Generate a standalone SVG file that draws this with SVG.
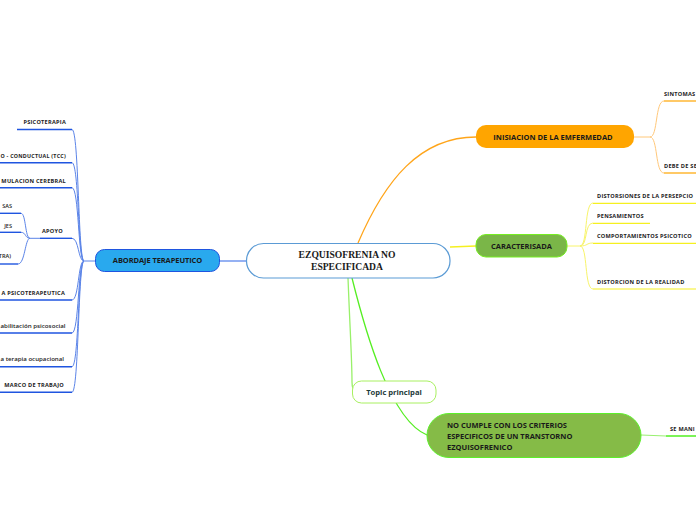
<svg xmlns="http://www.w3.org/2000/svg" width="696" height="520" viewBox="0 0 696 520">
<style>
.lbl{font-family:"Open Sans","DejaVu Sans",sans-serif;font-size:5.6px;font-weight:700;fill:#222;letter-spacing:0.25px}
.lbl2{font-family:"Open Sans","DejaVu Sans",sans-serif;font-size:5.6px;font-weight:600;fill:#222}
.lbl3{font-family:"Open Sans","DejaVu Sans",sans-serif;font-size:5.8px;font-weight:600;fill:#222}
.ul-b{stroke:#1f55e0;stroke-width:1.4;fill:none}
.ul-o{stroke:#ffa500;stroke-width:1.2;fill:none}
.ul-y{stroke:#f5f020;stroke-width:1.2;fill:none}
.ul-g{stroke:#44ee11;stroke-width:1.4;fill:none}
.c-b{stroke:#5b84e8;stroke-width:1;fill:none}
.c-o{stroke:#ffc87a;stroke-width:1;fill:none}
.c-y{stroke:#f8f46a;stroke-width:1;fill:none}
.main{font-family:"Open Sans","DejaVu Sans",sans-serif;font-size:7.5px;font-weight:700;fill:#1a1a1a}
</style>
<rect width="696" height="520" fill="#ffffff"/>
<g id="connectors">
<path d="M358,243 C385,180 420,137 476,137" stroke="#ffa51a" stroke-width="1.3" fill="none"/>
<path d="M450,247 L476,246" stroke="#f5f020" stroke-width="1.6" fill="none"/>
<path d="M219,261 L246,261" stroke="#7a9ef0" stroke-width="1.6" fill="none"/>
<path d="M352,278 C365,330 390,420 427,435" stroke="#55ee22" stroke-width="1.3" fill="none"/>
<path d="M348,278 C350,330 352,360 352,382 C352,388 354,391 356,391" stroke="#99f06a" stroke-width="1.3" fill="none"/>
<path d="M641,435 L666,436" stroke="#99f070" stroke-width="1" fill="none"/>
<path class="c-o" d="M634,137 L650,137 C658,137 655,101 664,101"/>
<path class="c-o" d="M650,137 C658,137 655,173 664,173"/>
<path class="c-y" d="M567,246 L580,246 C588,246 584,203 593,203"/>
<path class="c-y" d="M580,246 C588,246 584,223 593,223"/>
<path class="c-y" d="M580,246 C588,246 586,243 593,243"/>
<path class="c-y" d="M580,246 C588,246 584,289 593,289"/>
<path class="c-b" d="M95,261 L84,261 C78,261 79,129.5 72,129.5"/>
<path class="c-b" d="M84,261 C78,261 79,162.7 72,162.7"/>
<path class="c-b" d="M84,261 C78,261 79,187.7 72,187.7"/>
<path class="c-b" d="M84,261 C78,261 79,238.3 72,238.3"/>
<path class="c-b" d="M84,261 C78,261 79,300 72,300"/>
<path class="c-b" d="M84,261 C78,261 79,333 72,333"/>
<path class="c-b" d="M84,261 C78,261 79,366.7 72,366.7"/>
<path class="c-b" d="M84,261 C78,261 79,392.3 72,392.3"/>
<path class="c-b" d="M40,238.3 L30,238.3 C25,238.3 26,213.3 21,213.3"/>
<path class="c-b" d="M30,238.3 C25,238.3 26,232.3 21,232.3"/>
<path class="c-b" d="M30,238.3 C25,238.3 25,264 18,264"/>
</g>
<g id="central">
<rect x="246.5" y="243.5" width="203.5" height="34.5" rx="17" fill="#ffffff" stroke="#5b9bd5" stroke-width="1.2"/>
<text x="347" y="257.5" text-anchor="middle" font-family="Liberation Serif, serif" font-size="9.6" font-weight="700" fill="#1a1a1a">EZQUISOFRENIA NO</text>
<text x="347" y="269.5" text-anchor="middle" font-family="Liberation Serif, serif" font-size="9.6" font-weight="700" fill="#1a1a1a">ESPECIFICADA</text>
</g>
<g id="abordaje">
<rect x="95.5" y="249.5" width="124" height="22" rx="9" fill="#29a9ee" stroke="#1f55e0" stroke-width="1"/>
<text x="157.5" y="263.3" text-anchor="middle" class="main" font-size="7" letter-spacing="-0.1">ABORDAJE TERAPEUTICO</text>
</g>
<g id="left-items">
<path class="ul-b" d="M17,129.5 H72"/><text class="lbl" x="66" y="124" text-anchor="end">PSICOTERAPIA</text>
<path class="ul-b" d="M0,162.7 H72"/><text class="lbl" x="0.5" y="157.5" textLength="65.5" lengthAdjust="spacingAndGlyphs">O - CONDUCTUAL (TCC)</text>
<path class="ul-b" d="M0,187.7 H72"/><text class="lbl" x="66" y="182.5" text-anchor="end">MULACION CEREBRAL</text>
<path class="ul-b" d="M40,238.3 H72"/><text class="lbl" x="63" y="232.5" text-anchor="end">APOYO</text>
<path class="ul-b" d="M0,213.3 H21"/><text class="lbl2" x="12" y="207.5" text-anchor="end">SAS</text>
<path class="ul-b" d="M0,232.3 H21"/><text class="lbl2" x="12" y="227.5" text-anchor="end">JES</text>
<path class="ul-b" d="M0,264 H18"/><text class="lbl2" x="11" y="257.5" text-anchor="end">TRA)</text>
<path class="ul-b" d="M0,300 H72"/><text class="lbl" x="65" y="294.5" text-anchor="end">A PSICOTERAPEUTICA</text>
<path class="ul-b" d="M0,333 H72"/><text class="lbl3" x="0.5" y="328" textLength="65" lengthAdjust="spacingAndGlyphs">abilitación psicosocial</text>
<path class="ul-b" d="M0,366.7 H72"/><text class="lbl3" x="0.5" y="361" textLength="63.5" lengthAdjust="spacingAndGlyphs">a terapia ocupacional</text>
<path class="ul-b" d="M0,392.3 H72"/><text class="lbl" x="64" y="386.5" text-anchor="end" letter-spacing="0">MARCO  DE TRABAJO</text>
</g>
<g id="inisiacion">
<rect x="476" y="125" width="158" height="23" rx="10" fill="#ffa500"/>
<text x="553" y="139.5" text-anchor="middle" class="main" font-size="7.6">INISIACION DE LA EMFERMEDAD</text>
<path class="ul-o" d="M664,101 H696"/><text class="lbl" x="664" y="96">SINTOMAS</text>
<path class="ul-o" d="M664,173 H696"/><text class="lbl" x="664" y="167.5">DEBE DE SE</text>
</g>
<g id="caracterisada">
<rect x="476" y="234.5" width="91" height="22.5" rx="10" fill="#7ab648" stroke="#77ee22" stroke-width="1"/>
<text x="521.5" y="248.6" text-anchor="middle" class="main" font-size="7.6">CARACTERISADA</text>
<path class="ul-y" d="M593,203.3 H696"/><text class="lbl" x="597" y="197.7">DISTORSIONES DE LA PERSEPCIO</text>
<path class="ul-y" d="M593,223.3 H650"/><text class="lbl" x="597" y="217.7">PENSAMIENTOS</text>
<path class="ul-y" d="M593,243.3 H696"/><text class="lbl" x="597" y="238">COMPORTAMIENTOS  PSICOTICO</text>
<path class="ul-y" d="M593,289 H696"/><text class="lbl" x="597" y="283.7">DISTORCION DE LA REALIDAD</text>
</g>
<g id="topic">
<rect x="352.5" y="381" width="83.5" height="22" rx="9" fill="#ffffff" stroke="#a8f060" stroke-width="1"/>
<text x="394" y="394.5" text-anchor="middle" font-family="Open Sans, DejaVu Sans, sans-serif" font-size="7.6" font-weight="700" fill="#1d3a3a">Topic principal</text>
</g>
<g id="nocumple">
<rect x="427" y="413.5" width="214" height="44" rx="22" fill="#85bb47" stroke="#5cf02a" stroke-width="1"/>
<text class="main" x="447" y="427.5" font-size="7.2">NO CUMPLE CON LOS CRITERIOS</text>
<text class="main" x="447" y="439" font-size="7.2">ESPECIFICOS DE UN TRANSTORNO</text>
<text class="main" x="447" y="450" font-size="7.2">EZQUISOFRENICO</text>
<path class="ul-g" d="M666,436 H696"/><text class="lbl" x="670" y="430.5">SE MANI</text>
</g>
</svg>
